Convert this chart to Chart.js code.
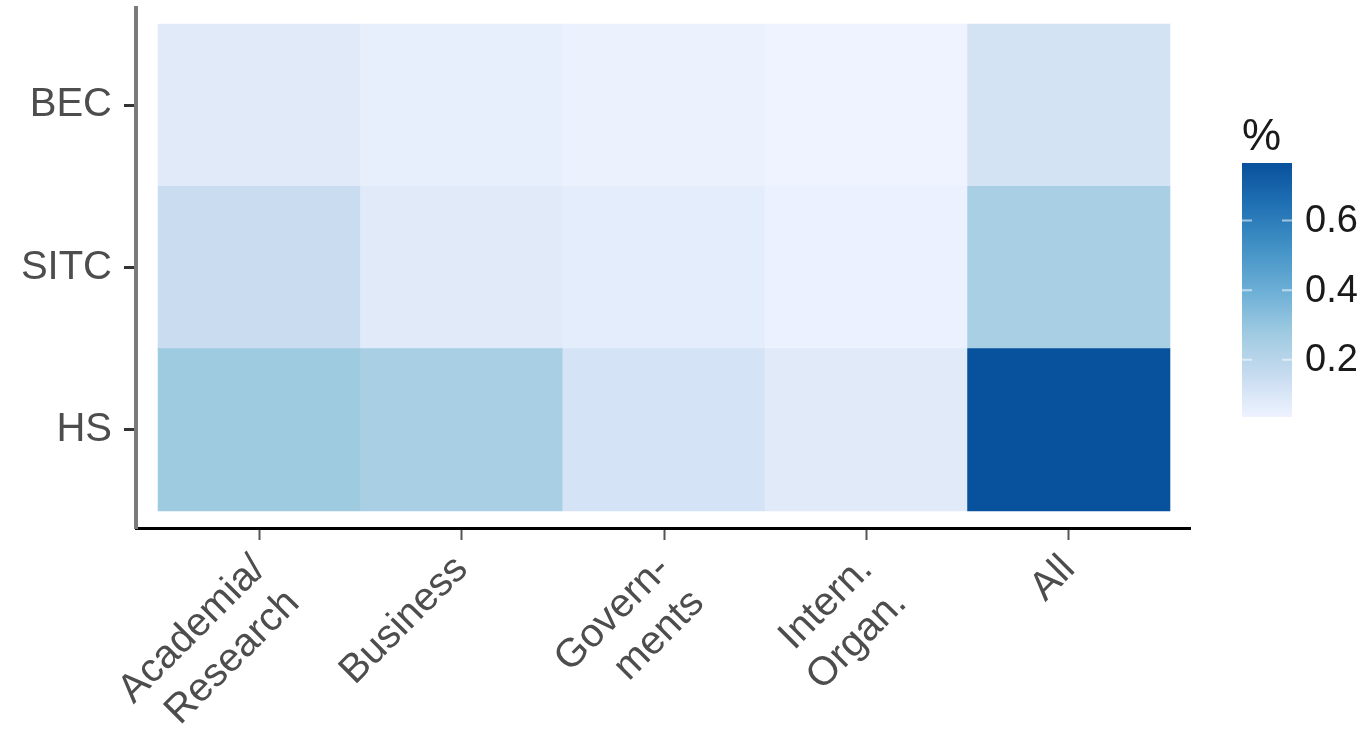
<!DOCTYPE html>
<html>
<head>
<meta charset="utf-8">
<script src="https://cdn.jsdelivr.net/npm/chart.js@4.4.1/dist/chart.umd.min.js"></script>
<style>
	html, body { margin: 0; padding: 0; background: #fff; }
	#wrap { width: 1369px; height: 732px; }
</style>
</head>
<body>
<div id="wrap"><canvas id="heat"></canvas></div>
<script>
	// categories and values
	var columns = [['Academia/', 'Research'], 'Business', ['Govern-', 'ments'], ['Intern.', 'Organ.'], 'All'];
	var rows = ['HS', 'SITC', 'BEC'];
	var hsValues   = [0.275, 0.245, 0.115, 0.080, 0.765];
	var sitcValues = [0.150, 0.080, 0.068, 0.047, 0.245];
	var becValues  = [0.080, 0.056, 0.045, 0.036, 0.118];
	var legendTicks = [0.2, 0.4, 0.6];
	var legendTitle = '%';

	var blues = ['#eff3ff', '#c6dbef', '#9ecae1', '#6baed6', '#4292c6', '#2171b5', '#08519c'];
	var rowValues = [hsValues, sitcValues, becValues];
	var allValues = [].concat(hsValues, sitcValues, becValues);
	var vMin = Math.min.apply(null, allValues);
	var vMax = Math.max.apply(null, allValues);

	function hexToRgb(h) {
		return [parseInt(h.substr(1, 2), 16), parseInt(h.substr(3, 2), 16), parseInt(h.substr(5, 2), 16)];
	}

	// linear interpolation through the palette
	function colorFor(v) {
		var t = (v - vMin) / (vMax - vMin);
		t = Math.max(0, Math.min(1, t));
		var pos = t * (blues.length - 1);
		var i = Math.min(Math.floor(pos), blues.length - 2);
		var f = pos - i;
		var a = hexToRgb(blues[i]), b = hexToRgb(blues[i + 1]);
		var c = a.map(function (x, k) { return Math.round(x + (b[k] - x) * f); });
		return 'rgb(' + c.join(',') + ')';
	}

	var datasets = rowValues.map(function (vals, r) {
		return {
			label: rows[r],
			data: vals.map(function (v, c) { return { x: c, y: [r - 0.5, r + 0.5] }; }),
			backgroundColor: vals.map(colorFor),
			borderWidth: 0,
			grouped: false,
			barPercentage: 1,
			categoryPercentage: 1
		};
	});

	var axisFont = { family: "'Liberation Sans', Arial, sans-serif", size: 40 };

	// draws the colour bar legend right of the panel
	var colorBarPlugin = {
		id: 'colorBar',
		afterDraw: function (chart) {
			var ctx = chart.ctx;
			var area = chart.chartArea;
			var left = area.right + 52, w = 50;
			var top = 163, bottom = 417;
			ctx.save();
			var grad = ctx.createLinearGradient(0, bottom, 0, top);
			blues.forEach(function (c, i) { grad.addColorStop(i / (blues.length - 1), c); });
			ctx.fillStyle = grad;
			ctx.fillRect(left, top, w, bottom - top);

			ctx.font = "38px 'Liberation Sans', Arial, sans-serif";
			ctx.textBaseline = 'middle';
			ctx.textAlign = 'left';
			legendTicks.forEach(function (v) {
				var y = bottom - (v - vMin) / (vMax - vMin) * (bottom - top);
				ctx.strokeStyle = 'rgba(255,255,255,0.55)';
				ctx.lineWidth = 2;
				ctx.beginPath();
				ctx.moveTo(left, y); ctx.lineTo(left + 10, y);
				ctx.moveTo(left + w - 10, y); ctx.lineTo(left + w, y);
				ctx.stroke();
				ctx.fillStyle = '#1a1a1a';
				ctx.fillText(v.toFixed(1), left + w + 13, y + 1);
			});

			ctx.font = "44px 'Liberation Sans', Arial, sans-serif";
			ctx.textBaseline = 'alphabetic';
			ctx.fillStyle = '#1a1a1a';
			ctx.fillText(legendTitle, left, 150);
			ctx.restore();
		}
	};

	new Chart(document.getElementById('heat'), {
		type: 'bar',
		data: { datasets: datasets },
		plugins: [colorBarPlugin],
		options: {
			responsive: true,
			maintainAspectRatio: false,
			animation: false,
			events: [],
			layout: { padding: { top: 8, right: 179, bottom: 0, left: 0 } },
			plugins: { legend: { display: false }, tooltip: { enabled: false } },
			scales: {
				x: {
					type: 'linear',
					offset: false,
					min: -0.609,
					max: 4.599,
					afterBuildTicks: function (scale) {
						scale.ticks = columns.map(function (c, i) { return { value: i }; });
					},
					afterFit: function (scale) {
						scale.height = 204;
						scale.paddingLeft = 0;
						scale.paddingRight = 0;
					},
					ticks: {
						autoSkip: false,
						maxRotation: 45,
						minRotation: 45,
						padding: 6,
						color: '#4d4d4d',
						font: axisFont,
						callback: function (v, i) { return columns[i]; }
					},
					grid: { offset: false, drawOnChartArea: false, tickLength: 12, color: '#555', tickWidth: 2 },
					border: { color: '#000', width: 3 }
				},
				y: {
					type: 'linear',
					min: -0.605,
					max: 2.599,
					afterBuildTicks: function (scale) {
						scale.ticks = rows.map(function (r, i) { return { value: i }; });
					},
					afterFit: function (scale) {
						scale.width = 136;
						scale.paddingTop = 0;
						scale.paddingBottom = 0;
					},
					ticks: {
						padding: 12,
						color: '#4d4d4d',
						font: axisFont,
						callback: function (v, i) { return rows[i]; }
					},
					grid: { drawOnChartArea: false, tickLength: 12, color: '#333', tickWidth: 3 },
					border: { color: '#7a7a7a', width: 4 }
				}
			}
		}
	});
</script>
</body>
</html>
